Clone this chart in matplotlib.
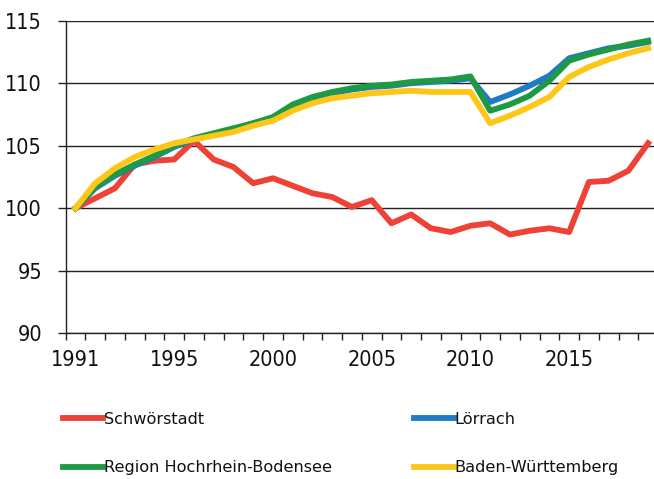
import matplotlib
matplotlib.use("Agg")
import matplotlib.pyplot as plt
import numpy as np

# category index 0..29 (years 1990..2019 on the source chart)
years = list(range(1990, 2020))
tick_labels = ["1991", "1995", "2000", "2005", "2010", "2015"]
tick_idx = [0, 5, 10, 15, 20, 25]

schwoerstadt = [100.0, 100.8, 101.6, 103.5, 103.8, 103.9, 105.4, 103.9, 103.3, 102.0,
                102.4, 101.8, 101.2, 100.9, 100.1, 100.65, 98.8, 99.5, 98.4, 98.1,
                98.6, 98.8, 97.9, 98.2, 98.4, 98.1, 102.1, 102.2, 103.0, 105.2]
loerrach = [100.0, 101.6, 102.6, 103.4, 104.1, 104.9, 105.5, 105.9, 106.3, 106.8,
            107.2, 108.2, 108.8, 109.2, 109.5, 109.7, 109.8, 110.0, 110.1, 110.2,
            110.4, 108.5, 109.1, 109.8, 110.6, 112.0, 112.4, 112.8, 113.0, 113.3]
region = [100.0, 101.7, 102.7, 103.5, 104.2, 105.0, 105.6, 106.0, 106.4, 106.8,
          107.3, 108.3, 108.9, 109.3, 109.6, 109.8, 109.9, 110.1, 110.2, 110.3,
          110.55, 107.8, 108.3, 109.0, 110.2, 111.8, 112.3, 112.7, 113.1, 113.4]
bw = [100.0, 102.0, 103.2, 104.1, 104.7, 105.2, 105.5, 105.8, 106.1, 106.6,
      107.0, 107.8, 108.4, 108.8, 109.0, 109.2, 109.3, 109.4, 109.3, 109.3,
      109.3, 106.8, 107.4, 108.1, 108.9, 110.5, 111.3, 111.9, 112.4, 112.8]

names = ["Schwörstadt", "Lörrach", "Region Hochrhein-Bodensee", "Baden-Württemberg"]
colors = ["#EE4236", "#1F7BC6", "#1E9A45", "#FFC61A"]

W, H = 654, 479
fig = plt.figure(figsize=(W / 100, H / 100), dpi=100)
fig.patch.set_facecolor("white")
left_px, right_px, top_px, bot_px = 65.6, 658.0, 20.7, 333.3
ax = fig.add_axes([left_px / W, 1 - bot_px / H, (right_px - left_px) / W, (bot_px - top_px) / H])

x = np.arange(len(years))
lw = 4.2
h_red, = ax.plot(x, schwoerstadt, color=colors[0], lw=lw, solid_joinstyle="round", zorder=3)
h_blue, = ax.plot(x, loerrach, color=colors[1], lw=lw, solid_joinstyle="round", zorder=4)
h_green, = ax.plot(x, region, color=colors[2], lw=lw, solid_joinstyle="round", zorder=5)
h_yel, = ax.plot(x, bw, color=colors[3], lw=lw, solid_joinstyle="round", zorder=6)

ax.set_xlim(-0.5, 29.5)
ax.set_ylim(90, 115)
ax.set_yticks([90, 95, 100, 105, 110, 115])
ax.yaxis.grid(True, color="#222222", lw=1.0)
ax.set_axisbelow(True)
for s in ["top", "right"]:
    ax.spines[s].set_visible(False)
ax.spines["left"].set_color("#222222")
ax.spines["bottom"].set_color("#222222")
ax.spines["left"].set_linewidth(1.0)
ax.spines["bottom"].set_linewidth(1.0)

tick_font = dict(family="DejaVu Sans", stretch="condensed", size=15.5)
ax.set_xticks(tick_idx)
ax.set_xticklabels(tick_labels, **tick_font, color="#111111")
ax.set_xticks(np.arange(-0.5, 30, 1), minor=True)
ax.tick_params(axis="x", which="major", length=0, pad=12)
ax.tick_params(axis="x", which="minor", length=5, width=1.0, direction="out", color="#222222")
ax.set_yticklabels([str(v) for v in [90, 95, 100, 105, 110, 115]], **tick_font, color="#111111")
ax.tick_params(axis="y", length=6, width=1.0, direction="out", pad=11, color="#222222")

leg = fig.legend([h_red, h_green, h_blue, h_yel],
                 [names[0], names[2], names[1], names[3]],
                 ncol=2, loc="upper left", bbox_to_anchor=(48 / W, 1 - 397 / H),
                 frameon=False, handlelength=2.5, handletextpad=0.05,
                 columnspacing=5.1, labelspacing=2.1,
                 prop=dict(family="DejaVu Sans", size=11.6))
for line in leg.get_lines():
    line.set_linewidth(4.2)
for t in leg.get_texts():
    t.set_color("#111111")

fig.savefig("out.png", dpi=100, facecolor="white")
